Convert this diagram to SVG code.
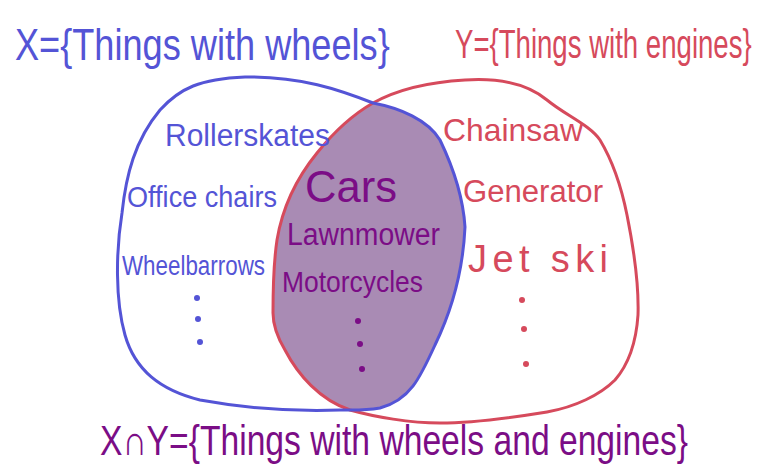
<svg xmlns="http://www.w3.org/2000/svg" width="764" height="474" viewBox="0 0 764 474">
<style>
text { font-family: "Liberation Sans", "DejaVu Sans", sans-serif; font-weight: normal; }
.bt { fill: #5454d6; }
.rt { fill: #d64a5c; }
.pt { fill: #7b0d86; }
.outline { fill: none; stroke-width: 3; stroke-linejoin: round; }
</style>
<defs>
<path id="xpath" d="M 373,103 C 400,108 428,120 440,140 C 452,165 463,195 465,227 C 463,270 452,310 435,345 C 420,378 410,400 380,408 C 362,411 352,410 340,410 C 310,411 260,411 200,400 C 160,390 135,370 125,335 C 115,300 116,250 122,213 C 126,175 135,140 160,110 C 180,88 200,79 245,77 C 300,76 340,90 373,103 Z"/>
<path id="ypath" d="M 373,103 C 400,88 430,82 465,80 C 495,78 525,82 547,100 C 565,115 590,125 600,140 C 615,165 622,190 627,215 C 634,250 639,285 638,315 C 636,345 628,365 615,380 C 600,395 575,407 547,412 C 510,418 475,423 440,423 C 410,423 375,417 350,410 C 320,400 298,375 285,350 C 276,335 273,325 273,313 C 273,285 274,260 277,240 C 282,210 295,180 317,153 C 333,133 352,115 373,103 Z"/>
<clipPath id="xclip"><use href="#xpath"/></clipPath>
</defs>
<rect width="764" height="474" fill="#ffffff"/>

<g id="intersection">
<use href="#ypath" fill="#a98bb4" clip-path="url(#xclip)"/>
</g>

<g id="setY">
<use href="#ypath" class="outline" stroke="#d64a5c"/>
</g>
<g id="setX">
<use href="#xpath" class="outline" stroke="#5454d6"/>
</g>

<g id="titleX">
<text class="bt" transform="translate(15,60) scale(0.82,1)" x="0" y="0" font-size="44" textLength="457" lengthAdjust="spacingAndGlyphs">X={Things with wheels}</text>
</g>
<g id="titleY">
<text class="rt" transform="translate(455,58) scale(0.69,1)" x="0" y="0" font-size="40" textLength="430" lengthAdjust="spacingAndGlyphs">Y={Things with engines}</text>
</g>
<g id="titleXY">
<text class="pt" transform="translate(100,455) scale(0.8,1)" x="0" y="0" font-size="42" textLength="735" lengthAdjust="spacingAndGlyphs">X∩Y={Things with wheels and engines}</text>
</g>

<g id="onlyX">
<text class="bt" x="165" y="146" font-size="31" textLength="165" lengthAdjust="spacingAndGlyphs">Rollerskates</text>
<text class="bt" x="127" y="207" font-size="29" textLength="150" lengthAdjust="spacingAndGlyphs">Office chairs</text>
<text class="bt" x="122" y="275" font-size="27" textLength="143" lengthAdjust="spacingAndGlyphs">Wheelbarrows</text>
<circle class="bt" cx="197" cy="298" r="3"/>
<circle class="bt" cx="198" cy="319" r="3"/>
<circle class="bt" cx="200" cy="342" r="3"/>
</g>

<g id="both">
<text class="pt" x="305" y="202" font-size="44" textLength="92" lengthAdjust="spacingAndGlyphs">Cars</text>
<text class="pt" x="287" y="245" font-size="31" textLength="153" lengthAdjust="spacingAndGlyphs">Lawnmower</text>
<text class="pt" x="282" y="292" font-size="30" textLength="141" lengthAdjust="spacingAndGlyphs">Motorcycles</text>
<circle class="pt" cx="358" cy="321" r="3"/>
<circle class="pt" cx="360" cy="344" r="3"/>
<circle class="pt" cx="362" cy="369" r="3"/>
</g>

<g id="onlyY">
<text class="rt" x="443" y="141" font-size="32" textLength="140" lengthAdjust="spacingAndGlyphs">Chainsaw</text>
<text class="rt" x="463" y="202" font-size="31" textLength="140" lengthAdjust="spacingAndGlyphs">Generator</text>
<text class="rt" x="468" y="272" font-size="38" textLength="140" lengthAdjust="spacing">Jet ski</text>
<circle class="rt" cx="522" cy="300" r="3"/>
<circle class="rt" cx="524" cy="329" r="3"/>
<circle class="rt" cx="526" cy="364" r="3"/>
</g>
</svg>
